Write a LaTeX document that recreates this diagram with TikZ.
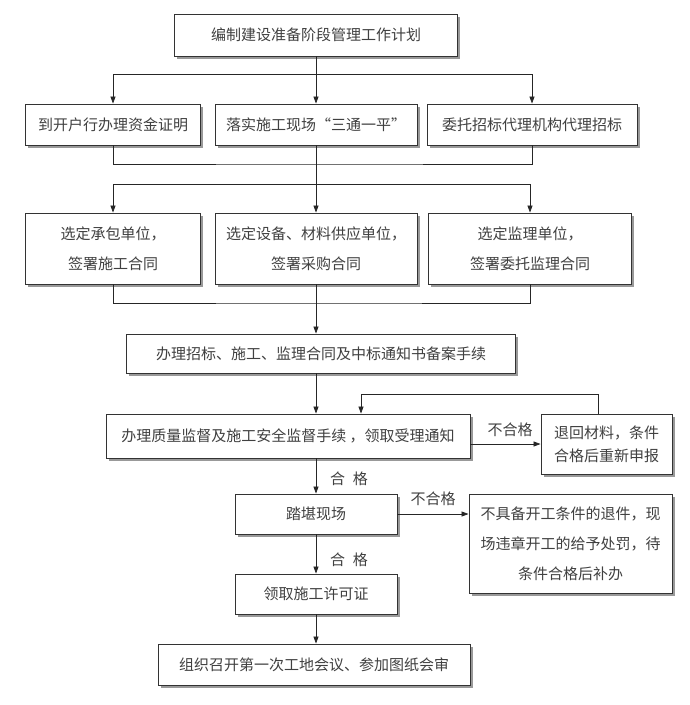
\documentclass[tikz,border=0pt]{standalone}
\usepackage{fontspec}
\newfontfamily\cjk{Noto Sans CJK SC}
\usetikzlibrary{arrows.meta,shadows}

\begin{document}
\begin{tikzpicture}[x=1pt, y=-1pt,
    box/.style={draw=black!80, line width=0.9pt, fill=white, rectangle, align=center, inner sep=0pt,
      font=\cjk\fontsize{15}{30}\selectfont, text=black!75,
      drop shadow={shadow xshift=2.5pt, shadow yshift=-2.5pt, fill=black!40, opacity=1}},
    ln/.style={draw=black!85, line width=0.8pt},
    arr/.style={ln, -{Triangle[length=7pt,width=5pt]}},
    lbl/.style={font=\cjk\fontsize{15}{18}\selectfont, text=black!75}]
    \useasboundingbox[fill=white] (0,0) rectangle (689,705);

    % Nodes
    \node[box, minimum width=283pt, minimum height=42pt] (plan) at (316,35) {编制建设准备阶段管理工作计划};

    \node[box, minimum width=175pt, minimum height=41pt] (A1) at (113,124.5) {到开户行办理资金证明};
    \node[box, minimum width=202pt, minimum height=41pt] (B1) at (316,124.5) {落实施工现场“三通一平”};
    \node[box, minimum width=210pt, minimum height=41pt] (C1) at (532,124.5) {委托招标代理机构代理招标};

    \node[box, minimum width=175pt, minimum height=71pt] (A2) at (113,248.5) {选定承包单位，\\签署施工合同};
    \node[box, minimum width=202pt, minimum height=71pt] (B2) at (316,248.5) {选定设备、材料供应单位，\\签署采购合同};
    \node[box, minimum width=203pt, minimum height=71pt] (C2) at (530,248.5) {选定监理单位，\\签署委托监理合同};

    \node[box, minimum width=389pt, minimum height=39pt] (B4) at (321,353.5) {办理招标、施工、监理合同及中标通知书备案手续};
    \node[box, minimum width=364pt, minimum height=44pt] (B5) at (288,436) {办理质量监督及施工安全监督手续 ，领取受理通知};
    \node[box, minimum width=131pt, minimum height=60pt, font=\cjk\fontsize{15}{23}\selectfont] (R1) at (606.5,444) {退回材料，条件\\合格后重新申报};
    \node[box, minimum width=162pt, minimum height=40pt] (B6) at (316,514) {踏堪现场};
    \node[box, minimum width=203pt, minimum height=99pt] (R2) at (570.5,543.5) {不具备开工条件的退件，现\\场违章开工的给予处罚，待\\条件合格后补办};
    \node[box, minimum width=162pt, minimum height=40pt] (B7) at (316,594) {领取施工许可证};
    \node[box, minimum width=312pt, minimum height=41pt] (B8) at (314,664.5) {组织召开第一次工地会议、参加图纸会审};

    \coordinate (split1) at (316,74);
    \coordinate (merge1) at (316,164);
    \coordinate (split2) at (316,184);
    \coordinate (merge2) at (316,303);
    \coordinate (loop) at (361,394);

    % Labels
    \node[lbl] (no1) at (510,430) {不合格};
    \node[lbl] (ok1) at (349,479) {合\hspace{8pt}格};
    \node[lbl] (no2) at (433,499) {不合格};
    \node[lbl] (ok2) at (349,560) {合\hspace{8pt}格};

    % Edges
    \draw[ln] (plan.south) -- (split1);
    \draw[arr] (split1) -| (A1.north);
    \draw[arr] (split1) -- (B1.north);
    \draw[arr] (split1) -| (C1.north);
    \draw[ln] (A1.south) |- (merge1) -| (C1.south);
    \draw[ln] (B1.south) -- (split2);
    \draw[arr] (split2) -| (A2.north);
    \draw[arr] (split2) -- (B2.north);
    \draw[arr] (split2) -| (C2.north);
    \draw[ln] (A2.south) |- (merge2) -| (C2.south);
    \draw[arr] (B2.south) -- (B2.south |- B4.north);
    \draw[arr] (B4.south -| split2) -- (B5.north -| split2);
    \draw[arr] (B5.east |- R1.west) -- (R1.west);
    \draw[arr] ([xshift=-8.5pt]R1.north) |- (loop) -- (loop |- B5.north);
    \draw[arr] (B5.south -| B6.north) -- (B6.north);
    \draw[arr] (B6.east) -- (B6.east -| R2.west);
    \draw[arr] (B6.south) -- (B7.north);
    \draw[arr] (B7.south) -- (B7.south |- B8.north);
\end{tikzpicture}
\end{document}
